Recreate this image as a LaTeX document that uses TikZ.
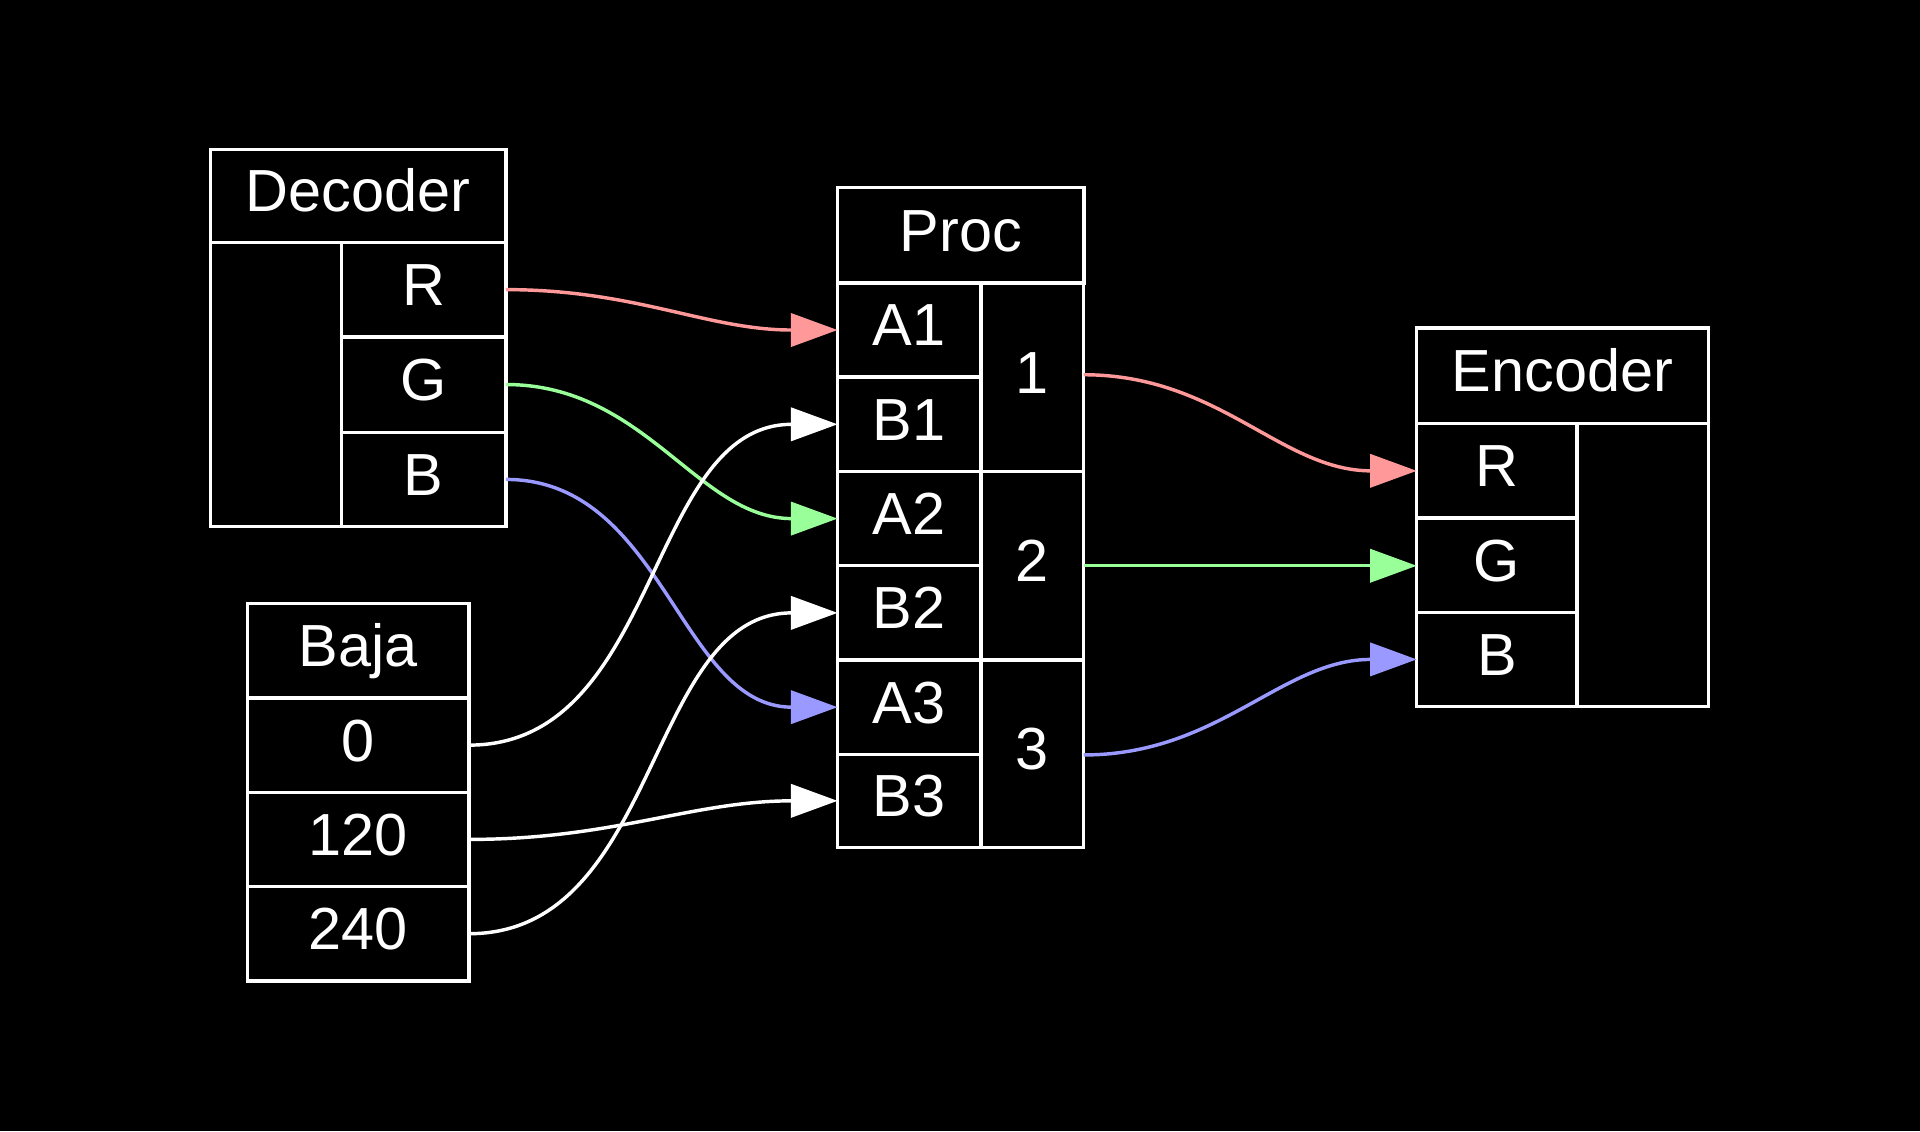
\documentclass[tikz,border=0pt]{standalone}
\usepackage{fontspec}
\setmainfont{Liberation Sans}
\usetikzlibrary{arrows.meta, positioning, backgrounds}
\definecolor{chanR}{HTML}{FF9999}
\definecolor{chanG}{HTML}{99FF99}
\definecolor{chanB}{HTML}{9999FF}
\begin{document}
\begin{tikzpicture}[x=0.01cm, y=-0.01cm]
  \tikzset{cell/.style={draw=white, line width=0.8pt, text=white, inner sep=0pt, outer sep=0pt, anchor=north west, text height=0.33cm, text depth=0.07cm, font=\fontsize{13.8}{16}\selectfont}};
  \tikzset{wire/.style={line width=0.8pt, -{Triangle[length=0.38cm, width=0.27cm]}}};
  \def\rowh{0.77cm};

  \fill[black] (0,0) rectangle (1568,924);
  \useasboundingbox (0,0) rectangle (1568,924);

  % Decoder
  \node[cell, minimum width=2.41cm, minimum height=0.76cm] (dec) at (172,122) {Decoder};
  \node[cell, minimum width=1.07cm, minimum height=2.32cm] (dec-e) at (172,198) {};
  \node[cell, minimum width=1.34cm, minimum height=\rowh] (dec-R) at (279,198) {R};
  \node[cell, minimum width=1.34cm, minimum height=0.78cm] (dec-G) at (279,275) {G};
  \node[cell, minimum width=1.34cm, minimum height=\rowh] (dec-B) at (279,353) {B};

  % Baja
  \node[cell, minimum width=1.81cm, minimum height=\rowh] (baja) at (202,493) {Baja};
  \node[cell, minimum width=1.81cm, minimum height=\rowh] (baja-0) at (202,570) {0};
  \node[cell, minimum width=1.81cm, minimum height=\rowh] (baja-120) at (202,647) {120};
  \node[cell, minimum width=1.81cm, minimum height=\rowh] (baja-240) at (202,724) {240};

  % Proc
  \node[cell, minimum width=2.01cm, minimum height=0.78cm] (proc) at (684,153) {Proc};
  \node[cell, minimum width=1.17cm, minimum height=\rowh] (A1) at (684,231) {A1};
  \node[cell, minimum width=1.17cm, minimum height=\rowh] (B1) at (684,308) {B1};
  \node[cell, minimum width=1.17cm, minimum height=\rowh] (A2) at (684,385) {A2};
  \node[cell, minimum width=1.17cm, minimum height=\rowh] (B2) at (684,462) {B2};
  \node[cell, minimum width=1.17cm, minimum height=\rowh] (A3) at (684,539) {A3};
  \node[cell, minimum width=1.17cm, minimum height=0.76cm] (B3) at (684,616) {B3};
  \node[cell, minimum width=0.84cm, minimum height=1.54cm] (p1) at (801,231) {1};
  \node[cell, minimum width=0.84cm, minimum height=1.54cm] (p2) at (801,385) {2};
  \node[cell, minimum width=0.84cm, minimum height=1.53cm] (p3) at (801,539) {3};

  % Encoder
  \node[cell, minimum width=2.38cm, minimum height=0.78cm] (enc) at (1157,268) {Encoder};
  \node[cell, minimum width=1.31cm, minimum height=\rowh] (enc-R) at (1157,346) {R};
  \node[cell, minimum width=1.31cm, minimum height=\rowh] (enc-G) at (1157,423) {G};
  \node[cell, minimum width=1.31cm, minimum height=\rowh] (enc-B) at (1157,500) {B};
  \node[cell, minimum width=1.07cm, minimum height=2.31cm] (enc-e) at (1288,346) {};

  \draw[wire, chanR] (dec-R.east) to[out=0, in=180] (A1.west);
  \draw[wire, chanG] (dec-G.east) to[out=0, in=180] (A2.west);
  \draw[wire, chanB] (dec-B.east) to[out=0, in=180] (A3.west);
  \draw[wire, white] (baja-0.east) to[out=0, in=180] (B1.west);
  \draw[wire, white] (baja-120.east) to[out=0, in=180] (B3.west);
  \draw[wire, white] (baja-240.east) to[out=0, in=180] (B2.west);

  \draw[wire, chanR] ([yshift=0.02cm]p1.east) to[out=0, in=180] (enc-R.west);
  \draw[wire, chanG] (p2.east) -- (p2.east -| enc-G.west);
  \draw[wire, chanB] ([yshift=-0.01cm]p3.east) to[out=0, in=180] (enc-B.west);
\end{tikzpicture}
\end{document}
